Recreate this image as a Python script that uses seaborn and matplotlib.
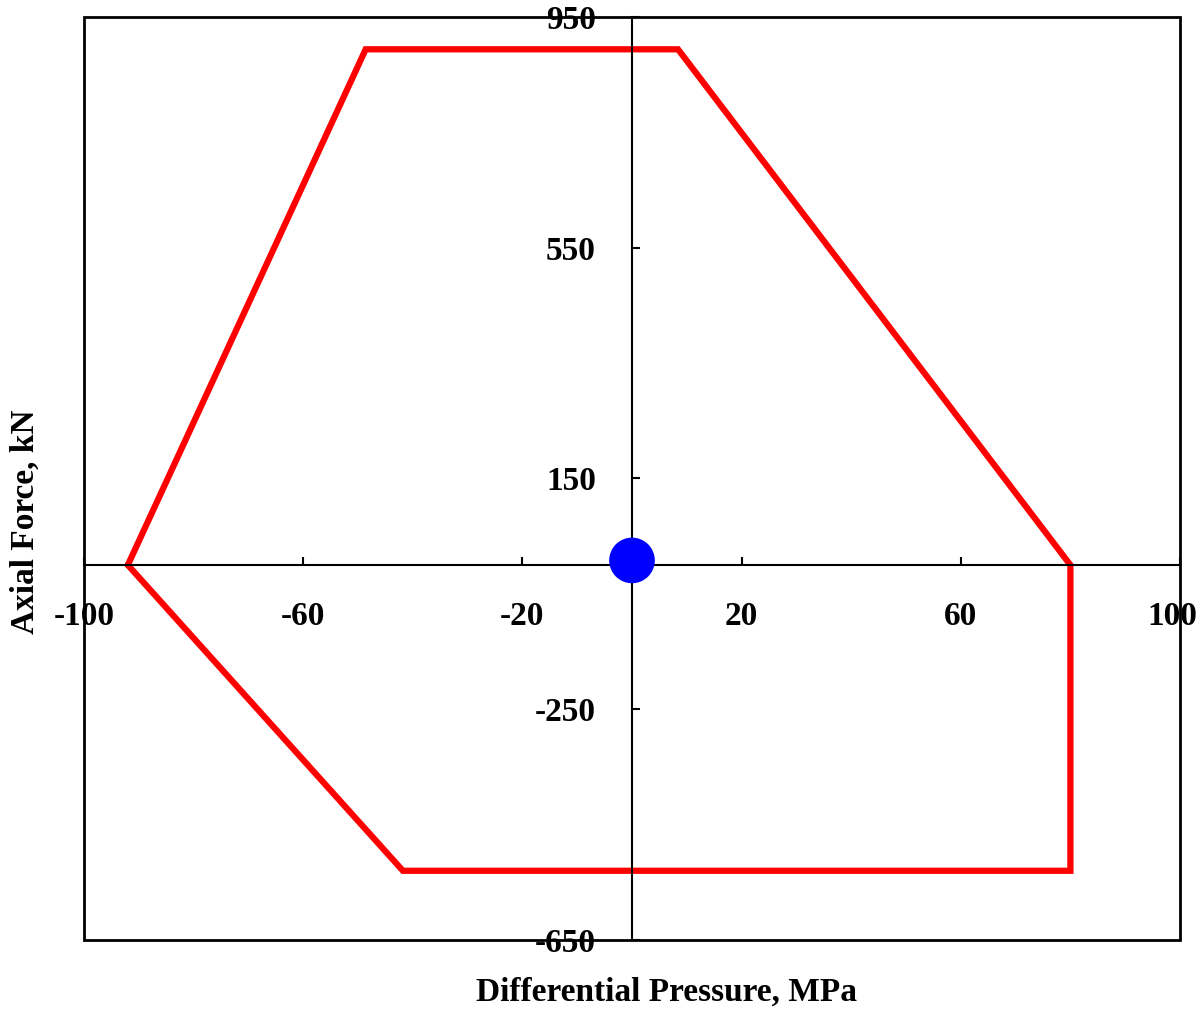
import matplotlib
matplotlib.use("Agg")
import matplotlib.pyplot as plt
import matplotlib.transforms as mtransforms
from matplotlib.patches import Rectangle
import seaborn as sns
import pandas as pd

# envelope corners (differential pressure MPa, axial force kN), closed loop
env_pressure = [-92, -48.6, 8.4, 80, 80, -41.8, -92]
env_force = [0, 894, 894, 0, -530, -530, 0]

# operating point
pt_pressure = [0]
pt_force = [8]

x_ticks = [-100, -60, -20, 20, 60, 100]
y_ticks = [-650, -250, 150, 550, 950]

sns.set_style("white")
plt.rcParams['font.family'] = ['Liberation Serif', 'DejaVu Serif']
plt.rcParams['font.weight'] = 'bold'
plt.rcParams['axes.unicode_minus'] = False
plt.rcParams['text.color'] = 'black'

df_env = pd.DataFrame({'p': env_pressure, 'f': env_force})
df_pt = pd.DataFrame({'p': pt_pressure, 'f': pt_force})

fig = plt.figure(figsize=(12, 10.13), dpi=100)
ax = fig.add_axes([84 / 1200, 1 - 940 / 1013, 1096 / 1200, 923 / 1013])

sns.lineplot(data=df_env, x='p', y='f', sort=False, estimator=None, color='red',
             linewidth=4.5, ax=ax)
ax.lines[-1].set_solid_joinstyle('miter')
sns.scatterplot(data=df_pt, x='p', y='f', color='blue', s=1080, edgecolor='none',
                ax=ax, zorder=5)

ax.set_xlim(-100, 100)
ax.set_ylim(-650, 950)
ax.set_xticks(x_ticks)
ax.set_yticks(y_ticks)
ax.set_xlabel('')
ax.set_ylabel('')

# centre axes
ax.spines['left'].set_position(('data', 0))
ax.spines['bottom'].set_position(('data', 0))
ax.spines['top'].set_visible(False)
ax.spines['right'].set_visible(False)
for s in ['left', 'bottom']:
    ax.spines[s].set_linewidth(1.5)
    ax.spines[s].set_color('black')

# outer frame
ax.add_patch(Rectangle((0, 0), 1, 1, transform=ax.transAxes, fill=False,
                       edgecolor='black', linewidth=2, clip_on=False, zorder=6))

ax.tick_params(axis='both', direction='in', length=6, width=1.5, colors='black',
               labelsize=24, pad=26, bottom=True, left=True)
for lab in ax.get_xticklabels() + ax.get_yticklabels():
    lab.set_fontweight('bold')

# nudge the last x label so it stays inside the figure
last = ax.get_xticklabels()[-1]
last.set_transform(last.get_transform() +
                   mtransforms.ScaledTranslation(-8 / 100, 0, fig.dpi_scale_trans))

fig.text(25 / 1200, 1 - 522 / 1013, 'Axial Force, kN', rotation=90, ha='center',
         va='center', fontsize=24, fontweight='bold', color='black')
fig.text(666 / 1200, 1 - 992 / 1013, 'Differential Pressure, MPa', ha='center',
         va='center', fontsize=24, fontweight='bold', color='black')

fig.savefig('out.png', dpi=100)
